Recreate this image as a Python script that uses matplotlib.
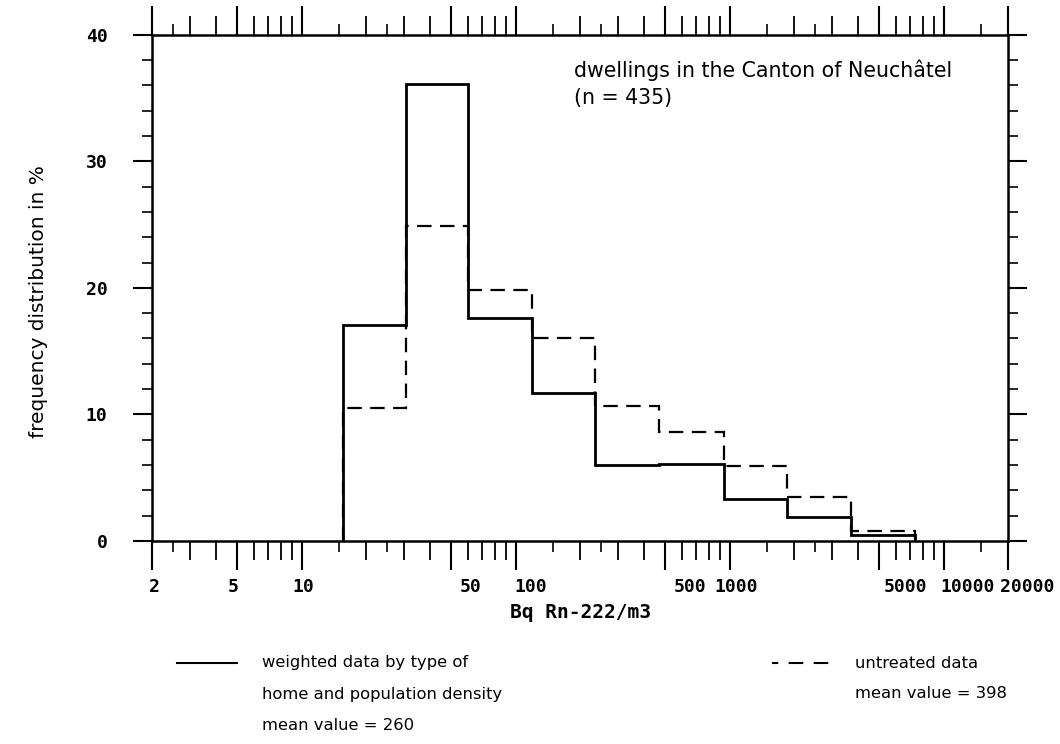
import numpy as np
import matplotlib
matplotlib.use("Agg")
from matplotlib import pyplot as plt
from matplotlib.lines import Line2D
from matplotlib.transforms import ScaledTranslation

# bin edges in Bq/m3 and frequencies in %
edges = [15.6, 30.7, 60.1, 119.7, 235, 466, 940, 1847, 3675, 7345]
weighted = [17.1, 36.1, 17.6, 11.7, 6.0, 6.1, 3.3, 1.9, 0.5]
untreated = [10.5, 24.9, 19.8, 16.0, 10.7, 8.6, 5.9, 3.45, 0.8]

xticks = [2, 5, 10, 50, 100, 500, 1000, 5000, 10000, 20000]
xticklabels = ["2", "5", "10", "50", "100", "500", "1000", "5000", "10000", "20000"]
label_shift = [2, -4, 2, 19, 15, 25, 7, 26, 24, 19]   # px, labels sit a bit off the ticks
yticks = [0, 10, 20, 30, 40]

dec = [1, 10, 100, 1000, 10000]
mid_ticks = [m * d for d in dec for m in (2, 3, 4, 6, 7, 8, 9)]
short_ticks = [m * d for d in dec for m in (1.5, 2.5)]

mono = "DejaVu Sans Mono"
sans = "DejaVu Sans"

fig = plt.figure(figsize=(10.6, 7.44), dpi=100)
ax = fig.add_axes([152/1060, 1 - 541/744, (1008-152)/1060, (541-34.7)/744])

ax.stairs(weighted, edges, baseline=0, color="black", lw=2.0)
ax.stairs(untreated, edges, baseline=0, color="black", lw=1.6,
          linestyle=(0, (6.5, 3.8)))

ax.set_xscale("log")
ax.set_xlim(2, 20000)
ax.set_ylim(0, 40)

ax.set_xticks(xticks)
ax.set_xticklabels(xticklabels)
ax.set_xticks([t for t in mid_ticks if 2 < t < 20000], minor=True)
ax.xaxis.set_minor_formatter(plt.NullFormatter())
ax.set_yticks(yticks)
ax.set_yticklabels([str(v) for v in yticks])
ax.set_yticks(np.arange(0, 41, 2), minor=True)

ax.tick_params(axis="x", which="major", direction="out", length=21, width=1.5,
               top=True, bottom=True, pad=6)
ax.tick_params(axis="x", which="minor", direction="out", length=14, width=1.3,
               top=True, bottom=True)
ax.tick_params(axis="y", which="major", direction="out", length=14, width=1.5,
               left=True, right=True, pad=18)
ax.tick_params(axis="y", which="minor", direction="out", length=7, width=1.2,
               left=True, right=True)

for lbl in ax.get_xticklabels() + ax.get_yticklabels():
    lbl.set_fontfamily(mono)
    lbl.set_fontweight("bold")
    lbl.set_fontsize(13)
for lbl, dx in zip(ax.get_xticklabels(), label_shift):
    lbl.set_transform(lbl.get_transform() + ScaledTranslation(dx / 100, 0, fig.dpi_scale_trans))

# extra short ticks at 1.5 and 2.5 per decade
for side in ("bottom", "top"):
    sec = ax.secondary_xaxis(side)
    sec.set_xticks([t for t in short_ticks if 2 < t < 20000])
    sec.set_xticklabels([])
    sec.xaxis.set_minor_locator(plt.NullLocator())
    sec.tick_params(which="major", direction="out", length=8, width=1.2)
    sec.spines[side].set_visible(False)

for s in ax.spines.values():
    s.set_linewidth(1.8)

ax.set_xlabel("Bq Rn-222/m3", fontfamily=mono, fontweight="bold", fontsize=14, labelpad=5)
ax.set_ylabel("frequency distribution in %", fontfamily=sans, fontsize=14.5)
ax.yaxis.set_label_coords(-0.122, 0.472)

ax.text(0.493, 0.93, "dwellings in the Canton of Neuchâtel", transform=ax.transAxes,
        fontfamily=sans, fontsize=14.8, va="center", ha="left")
ax.text(0.493, 0.875, "(n = 435)", transform=ax.transAxes,
        fontfamily=sans, fontsize=14.8, va="center", ha="left")

# legend below the plot
fig.add_artist(Line2D([177/1060, 237/1060], [1 - 663/744] * 2, color="black", lw=1.5))
fig.add_artist(Line2D([772/1060, 830/1060], [1 - 663/744] * 2, color="black", lw=1.5,
                      linestyle=(4, (7, 5))))
for i, line in enumerate(["weighted data by type of", "home and population density",
                          "mean value = 260"]):
    fig.text(262/1060, 1 - (663 + 31*i)/744, line, fontfamily=sans, fontsize=11.8, va="center")
for i, line in enumerate(["untreated data", "mean value = 398"]):
    fig.text(855/1060, 1 - (663 + 31*i)/744, line, fontfamily=sans, fontsize=11.8, va="center")

fig.savefig("out.png", dpi=100)
